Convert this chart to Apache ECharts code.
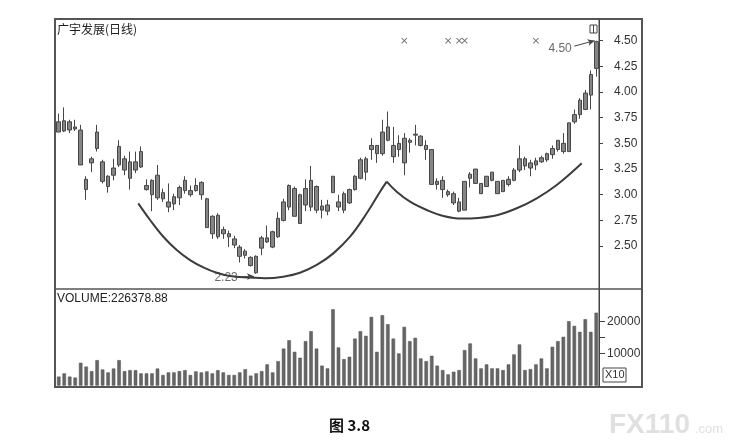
<!DOCTYPE html>
<html><head><meta charset="utf-8">
<script src="https://cdn.jsdelivr.net/npm/echarts@6/dist/echarts.min.js"></script>
<style>html,body{margin:0;padding:0;background:#fff}#c{width:736px;height:448px}</style>
</head><body><div id="c"></div>
<script>
// ---- data ----
const days = ['1','2','3','4','5','6','7','8','9','10','11','12','13','14','15','16','17','18','19','20',
'21','22','23','24','25','26','27','28','29','30','31','32','33','34','35','36','37','38','39','40',
'41','42','43','44','45','46','47','48','49','50','51','52','53','54','55','56','57','58','59','60',
'61','62','63','64','65','66','67','68','69','70','71','72','73','74','75','76','77','78','79','80',
'81','82','83','84','85','86','87','88','89','90','91','92','93','94','95','96','97','98','99'];
// [open, close, low, high]
const ohlc = [
[3.61,3.71,3.61,3.79],[3.62,3.72,3.61,3.85],[3.71,3.63,3.60,3.73],[3.66,3.64,3.62,3.73],[3.63,3.29,3.29,3.68],
[3.15,3.05,2.95,3.18],[3.31,3.35,3.22,3.37],[3.45,3.61,3.42,3.68],[3.32,3.13,3.11,3.34],[3.18,3.08,3.02,3.19],
[3.19,3.26,3.14,3.35],[3.29,3.47,3.27,3.53],[3.35,3.24,3.19,3.38],[3.32,3.16,3.05,3.42],[3.24,3.32,3.21,3.42],
[3.27,3.42,3.26,3.47],[3.09,3.05,3.04,3.15],[3.14,3.00,2.84,3.15],[2.97,3.19,2.95,3.29],[3.02,2.96,2.93,3.06],
[2.93,2.88,2.83,3.11],[2.91,2.98,2.85,3.01],[2.97,3.07,2.90,3.09],[3.04,3.14,3.01,3.18],[3.04,3.00,2.98,3.09],
[3.04,3.09,3.03,3.16],[3.12,3.00,2.95,3.13],[2.96,2.68,2.68,2.97],[2.79,2.62,2.57,2.80],[2.59,2.80,2.57,2.82],
[2.66,2.62,2.57,2.69],[2.62,2.59,2.49,2.65],[2.57,2.51,2.48,2.60],[2.49,2.40,2.34,2.51],[2.41,2.45,2.38,2.47],
[2.39,2.31,2.30,2.40],[2.40,2.24,2.23,2.41],[2.48,2.58,2.41,2.60],[2.54,2.58,2.53,2.70],[2.49,2.64,2.48,2.65],
[2.59,2.77,2.58,2.83],[2.75,2.93,2.74,2.96],[2.88,3.09,2.85,3.10],[3.06,2.79,2.79,3.08],[3.00,2.72,2.72,3.01],
[2.90,3.06,2.84,3.15],[2.88,3.14,2.84,3.28],[3.08,2.85,2.82,3.09],[2.89,2.85,2.77,2.95],[2.90,2.84,2.80,2.95],
[3.02,3.18,3.02,3.18],[2.93,2.88,2.84,3.00],[2.85,3.01,2.82,3.03],[2.92,3.05,2.91,3.06],[3.05,3.18,3.04,3.19],
[3.16,3.34,3.15,3.36],[3.22,3.35,3.14,3.37],[3.44,3.48,3.34,3.55],[3.48,3.40,3.31,3.48],[3.40,3.61,3.38,3.73],
[3.53,3.66,3.52,3.81],[3.48,3.37,3.31,3.66],[3.44,3.50,3.37,3.58],[3.55,3.31,3.19,3.60],[3.51,3.53,3.41,3.55],
[3.58,3.59,3.48,3.68],[3.57,3.48,3.47,3.58],[3.48,3.44,3.34,3.53],[3.44,3.10,3.10,3.44],[3.13,3.10,3.05,3.16],
[3.14,3.05,2.97,3.18],[3.03,3.00,2.98,3.05],[3.01,2.92,2.90,3.03],[2.93,2.84,2.83,2.97],[2.85,3.13,2.85,3.13],
[3.16,3.20,3.07,3.22],[3.11,3.25,3.11,3.25],[3.11,3.01,3.01,3.11],[3.08,3.18,3.08,3.18],[3.14,3.22,3.13,3.22],
[3.13,3.01,3.01,3.13],[3.03,3.14,3.03,3.14],[3.10,3.15,3.08,3.18],[3.14,3.24,3.13,3.26],[3.24,3.35,3.22,3.48],
[3.35,3.28,3.24,3.37],[3.31,3.26,3.18,3.34],[3.29,3.33,3.24,3.36],[3.32,3.36,3.31,3.38],[3.34,3.40,3.32,3.41],
[3.39,3.45,3.35,3.48],[3.44,3.53,3.42,3.53],[3.50,3.42,3.40,3.60],[3.42,3.70,3.42,3.70],[3.71,3.78,3.69,3.83],
[3.78,3.92,3.74,3.94],[3.83,3.99,3.83,4.02],[3.97,4.17,3.83,4.21],[4.23,4.49,4.15,4.50]
];
// volume (x10)
const volumes = [
2800,3800,2800,2500,7100,5900,4500,7900,5000,4100,5300,7900,4500,4800,4800,3800,3800,3800,5300,3300,
4100,4100,4500,4800,3300,4400,4100,4400,3800,4800,4100,3300,3300,4100,5100,
3100,3800,4500,6600,4100,7600,11500,14100,10500,8650,13800,16900,11500,6200,5350,23700,11850,8240,8960,
14600,16900,15460,21340,10500,21860,19070,14600,9990,18240,13800,14840,8440,7600,9270,6200,4830,3490,
4310,4830,11020,13090,8440,5350,6590,5350,5350,4830,6590,9680,12780,4830,5140,6590,8440,5350,12050,
13800,15150,20000,18550,16700,20620,16700,22637.888
];
// hand-drawn arcs (x in candle index units, y in price)
const leftArc = [[14.5,2.916],[16.65,2.754],[19.07,2.591],[21.51,2.462],[23.94,2.364],[26.36,2.293],
[28.81,2.240],[31.23,2.208],[34.88,2.194],[37.6,2.186],[40.95,2.202],[43.99,2.240],[47.04,2.316],
[50.06,2.429],[53.11,2.591],[56.15,2.819],[58.58,3.029],[59.8,3.127]];
const rightArc = [[59.8,3.127],[61.62,3.029],[64.05,2.932],[67.09,2.851],[70.12,2.793],[73.5,2.768],
[79.24,2.793],[83.5,2.868],[87.15,2.965],[90.79,3.094],[95.35,3.306]];
const markerIdx = [63, 71, 73, 74, 87];
const markerLevel = 4.50;
const lowVal = 2.23, highVal = 4.50;
const priceTicks = [2.50, 2.75, 3.00, 3.25, 3.50, 3.75, 4.00, 4.25, 4.50];
const volLabels = [10000, 20000];
const volTicks = [10000, 15000, 20000];
const title = '广宇发展(日线)';
const caption = '图 3.8';

// ---- chart ----
const chart = echarts.init(document.getElementById('c'));
const axisColor = '#444';
const fontLatin = 'Liberation Sans, Arial, sans-serif';
const fontCJK = '"Noto Sans CJK SC", sans-serif';
const lastVol = volumes[volumes.length - 1] * 10;

chart.setOption({
  animation: false,
  backgroundColor: '#fff',
  grid: [
    {left: 56, right: 137, top: 19, height: 270},
    {left: 56, right: 137, top: 289, height: 96.6}
  ],
  xAxis: [
    {type: 'category', gridIndex: 0, data: days, show: false},
    {type: 'value', gridIndex: 0, min: -0.5, max: 98.5, show: false},
    {type: 'category', gridIndex: 1, data: days, show: false}
  ],
  yAxis: [
    {type: 'value', gridIndex: 0, position: 'right', min: 2.082, max: 4.711,
     splitLine: {show: false},
     axisLine: {show: true, onZero: false, lineStyle: {color: axisColor, width: 1}},
     axisTick: {show: true, customValues: priceTicks, length: 4, lineStyle: {color: axisColor}},
     axisLabel: {customValues: priceTicks, formatter: v => Number(v).toFixed(2), margin: 15,
                 color: '#333', fontSize: 12, fontFamily: fontLatin}},
    {type: 'value', gridIndex: 1, position: 'right', min: 0, max: 30000,
     splitLine: {show: false},
     axisLine: {show: true, onZero: false, lineStyle: {color: axisColor, width: 1}},
     axisTick: {show: true, customValues: volTicks, length: 6, lineStyle: {color: axisColor}},
     axisLabel: {customValues: volLabels, formatter: v => String(Math.round(v)), margin: 8,
                 color: '#333', fontSize: 12, fontFamily: fontLatin}}
  ],
  series: [
    {type: 'candlestick', xAxisIndex: 0, yAxisIndex: 0, data: ohlc, barWidth: 4,
     itemStyle: {color: '#858585', color0: '#858585', borderColor: '#474747', borderColor0: '#474747', borderWidth: 1}},
    {type: 'bar', xAxisIndex: 2, yAxisIndex: 1, data: volumes, barWidth: 3.5,
     itemStyle: {color: '#666', borderColor: '#505050', borderWidth: 0.5}},
    {type: 'line', xAxisIndex: 1, yAxisIndex: 0, data: leftArc, smooth: 0.4, showSymbol: false,
     lineStyle: {color: '#3c3c3c', width: 2}},
    {type: 'line', xAxisIndex: 1, yAxisIndex: 0, data: rightArc, smooth: 0.4, showSymbol: false,
     lineStyle: {color: '#3c3c3c', width: 2}},
    {type: 'scatter', xAxisIndex: 1, yAxisIndex: 0,
     data: markerIdx.map(i => [i, markerLevel]),
     symbol: 'path://M0,1L1,0L5,4L9,0L10,1L6,5L10,9L9,10L5,6L1,10L0,9L4,5Z', symbolSize: 6,
     itemStyle: {color: '#444'}},
    {type: 'scatter', xAxisIndex: 1, yAxisIndex: 0, symbolSize: 0,
     data: [
       {value: [33.0, 2.195], label: {formatter: lowVal.toFixed(2)}},
       {value: [93.9, 4.42], label: {formatter: highVal.toFixed(2)}}
     ],
     label: {show: true, position: 'left', distance: 2, color: '#444', fontSize: 12, fontFamily: fontLatin},
     markLine: {
       silent: true, symbol: ['none', 'arrow'], symbolSize: [5, 7],
       lineStyle: {color: '#444', width: 1, type: 'solid'}, label: {show: false},
       data: [
         [{coord: [33.1, 2.20]}, {coord: [35.6, 2.205]}],
         [{coord: [94.0, 4.447]}, {coord: [97.7, 4.50]}]
       ]
     }}
  ],
  graphic: [
    {type: 'rect', shape: {x: 55, y: 19, width: 587, height: 368}, style: {fill: 'none', stroke: '#555', lineWidth: 2}, z: 10},
    {type: 'line', shape: {x1: 55, y1: 289, x2: 642, y2: 289}, style: {stroke: '#555', lineWidth: 1.5}, z: 10},
    {type: 'line', shape: {x1: 599, y1: 19, x2: 599, y2: 387}, style: {stroke: '#444', lineWidth: 1}, z: 10},
    {type: 'text', left: 57, top: 23, style: {text: title, font: '12px ' + fontCJK, fill: '#222'}, z: 10},
    {type: 'text', left: 57, top: 293, style: {text: 'VOLUME:' + lastVol.toFixed(2), font: '12px ' + fontLatin, fill: '#222'}, z: 10},
    {type: 'rect', shape: {x: 590, y: 25, width: 7, height: 8}, style: {fill: 'none', stroke: '#444', lineWidth: 1}, z: 10},
    {type: 'line', shape: {x1: 593.5, y1: 25, x2: 593.5, y2: 33}, style: {stroke: '#444', lineWidth: 1}, z: 10},
    {type: 'rect', shape: {x: 603, y: 368, width: 23, height: 14}, style: {fill: '#fff', stroke: '#444', lineWidth: 1}, z: 10},
    {type: 'text', left: 605, top: 369.5, style: {text: 'X10', font: '11px ' + fontLatin, fill: '#333'}, z: 11},
    {type: 'text', left: 329, top: 418, style: {text: caption, font: 'bold 15px ' + fontCJK, fill: '#111'}, z: 10},
    {type: 'text', left: 609, top: 411, style: {text: 'FX110', font: 'bold 28px ' + fontLatin, fill: '#e0e0e0'}, z: 1},
    {type: 'text', left: 695, top: 423, style: {text: '.com', font: '13px ' + fontLatin, fill: '#e0e0e0'}, z: 1}
  ]
});
</script>
</body></html>
